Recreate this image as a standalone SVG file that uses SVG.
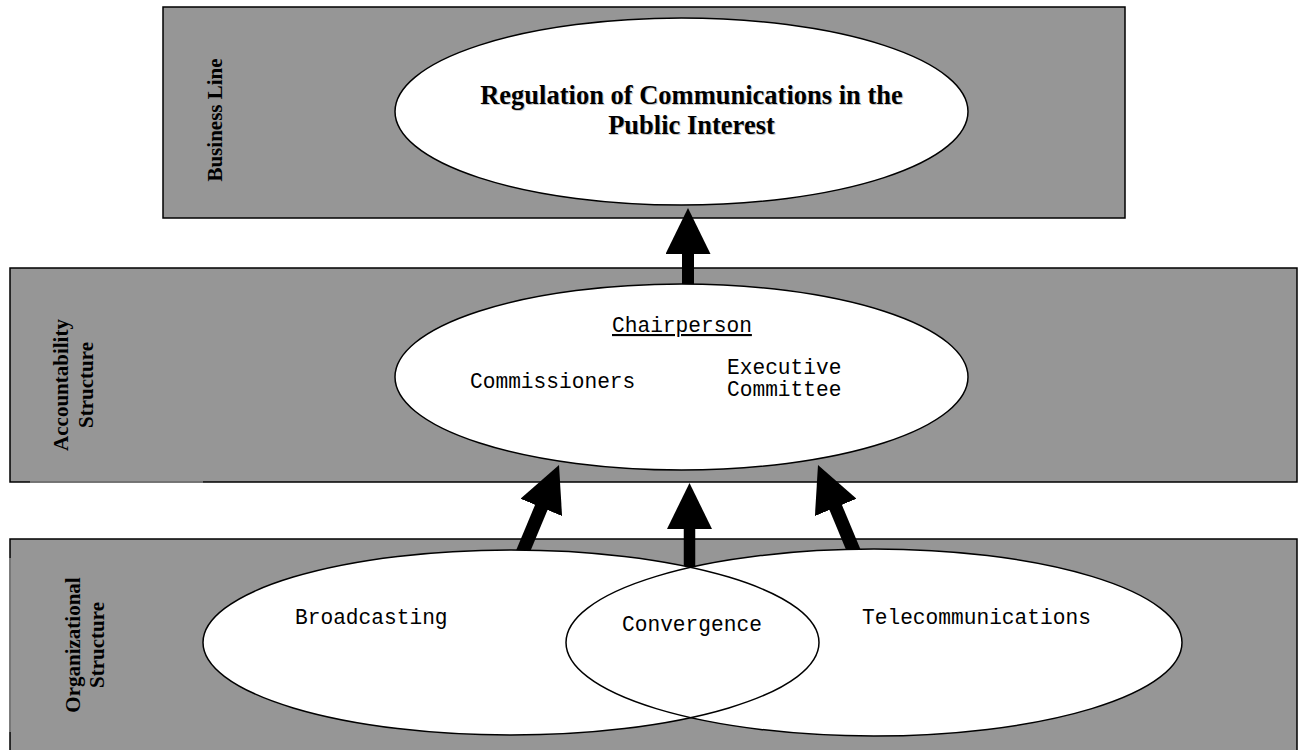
<svg xmlns="http://www.w3.org/2000/svg" width="1298" height="750" viewBox="0 0 1298 750">
  <defs>
    <style>
      .band { fill: #969696; stroke: #000; stroke-width: 1.5; }
      .oval { fill: #fff; stroke: #000; stroke-width: 1.5; }
      .oval-fill { fill: #fff; stroke: none; }
      .oval-line { fill: none; stroke: #000; stroke-width: 1.5; }
      .side { font-family: "Liberation Serif", "Times New Roman", serif; font-weight: bold; font-size: 21px; fill: #000; text-anchor: middle; }
      .title { font-family: "Liberation Serif", "Times New Roman", serif; font-weight: bold; font-size: 26.5px; text-anchor: middle; }
      .mono { font-family: "Liberation Mono", "Courier New", monospace; font-size: 21.2px; fill: #000; }
      .shaft { stroke: #000; fill: none; marker-end: url(#head); }
    </style>
    <marker id="head" viewBox="0 0 46 45" markerUnits="userSpaceOnUse" markerWidth="46" markerHeight="45" refX="1" refY="22.5" orient="auto">
      <path d="M0,0 L46,22.5 L0,45 Z" fill="#000"/>
    </marker>
  </defs>

  <!-- horizontal bands -->
  <g id="band-business">
    <rect class="band" x="163" y="7" width="962" height="211"/>
    <text class="side" transform="translate(222,120) rotate(-90)">Business Line</text>
  </g>
  <g id="band-accountability">
    <rect class="band" x="10" y="268" width="1287" height="214"/>
    <line x1="30" y1="482" x2="203" y2="482" stroke="#8c8c8c" stroke-width="1.6"/>
    <text class="side" transform="translate(67.5,385) rotate(-90)">Accountability</text>
    <text class="side" transform="translate(92.5,385) rotate(-90)">Structure</text>
  </g>
  <g id="band-organizational">
    <rect class="band" x="10" y="539" width="1287" height="214"/>
    <line x1="10" y1="558" x2="10" y2="732" stroke="#8c8c8c" stroke-width="1.6"/>
    <text class="side" transform="translate(79.5,645) rotate(-90)">Organizational</text>
    <text class="side" transform="translate(104,645) rotate(-90)">Structure</text>
  </g>

  <!-- connectors -->
  <g id="connectors">
    <line class="shaft" x1="688" y1="300" x2="688" y2="253" stroke-width="12"/>
    <line class="shaft" x1="689.5" y1="600" x2="689.5" y2="528" stroke-width="11.5"/>
    <line class="shaft" x1="518.6" y1="561.9" x2="541.7" y2="506.5" stroke-width="13.5"/>
    <line class="shaft" x1="858.4" y1="561.9" x2="835.3" y2="506.5" stroke-width="13.5"/>
  </g>

  <!-- business line node -->
  <g id="node-regulation">
    <ellipse class="oval" cx="681.5" cy="111.5" rx="286.5" ry="93.5"/>
    <g fill="#c8c8c8">
      <text class="title" x="692.5" y="104.5">Regulation of Communications in the</text>
      <text class="title" x="692.5" y="134.5">Public Interest</text>
    </g>
    <g fill="#000">
      <text class="title" x="691.5" y="103.5">Regulation of Communications in the</text>
      <text class="title" x="691.5" y="133.5">Public Interest</text>
    </g>
  </g>

  <!-- accountability node -->
  <g id="node-accountability">
    <ellipse class="oval" cx="681.5" cy="377" rx="286.5" ry="93"/>
    <text class="mono" x="612" y="332" text-decoration="underline">Chairperson</text>
    <text class="mono" x="470" y="388">Commissioners</text>
    <text class="mono" x="727" y="374">Executive</text>
    <text class="mono" x="727" y="396">Committee</text>
  </g>

  <!-- organizational nodes: two overlapping ovals, the lens between them is Convergence -->
  <g id="node-broadcasting">
    <ellipse class="oval-fill" cx="511" cy="642.5" rx="308" ry="92.5"/>
  </g>
  <g id="node-telecommunications">
    <ellipse class="oval-fill" cx="874" cy="642.5" rx="308" ry="93.5"/>
  </g>
  <g id="outlines">
    <ellipse class="oval-line" cx="511" cy="642.5" rx="308" ry="92.5"/>
    <ellipse class="oval-line" cx="874" cy="642.5" rx="308" ry="93.5"/>
  </g>
  <g id="labels-organizational">
    <text class="mono" x="295" y="624">Broadcasting</text>
    <text class="mono" x="622" y="631">Convergence</text>
    <text class="mono" x="862" y="624">Telecommunications</text>
  </g>
</svg>
